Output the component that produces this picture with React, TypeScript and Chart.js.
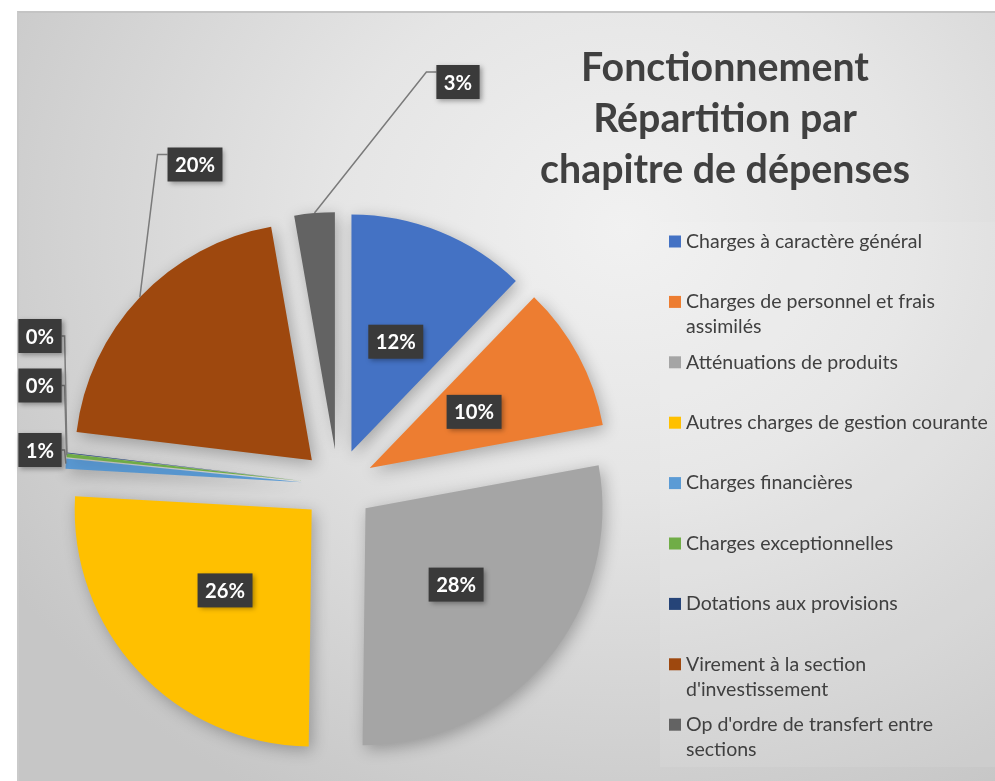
import React, { useEffect, useRef } from "react";
import { Chart, registerables } from "chart.js";

Chart.register(...registerables);

// ---- Data ----
const categories = [
  "Charges à caractère général",
  "Charges de personnel et frais assimilés",
  "Atténuations de produits",
  "Autres charges de gestion courante",
  "Charges financières",
  "Charges exceptionnelles",
  "Dotations aux provisions",
  "Virement à la section d'investissement",
  "Op d'ordre de transfert entre sections",
];
const legendLines = [
  ["Charges à caractère général"],
  ["Charges de personnel et frais", "assimilés"],
  ["Atténuations de produits"],
  ["Autres charges de gestion courante"],
  ["Charges financières"],
  ["Charges exceptionnelles"],
  ["Dotations aux provisions"],
  ["Virement à la section", "d'investissement"],
  ["Op d'ordre de transfert entre", "sections"],
];
const shares = [12.2, 9.9, 28.1, 25.7, 0.7, 0.25, 0.05, 20.35, 2.75];
const colors = [
  "#4472C4",
  "#ED7D31",
  "#A5A5A5",
  "#FFC000",
  "#5B9BD5",
  "#70AD47",
  "#264478",
  "#9E480E",
  "#636363",
];
const titleLines = ["Fonctionnement", "Répartition par", "chapitre de dépenses"];

// ---- Layout ----
const EXPLODE = 36;
const RADIUS = 237;
const FONT = "Lato, 'Open Sans', sans-serif";
const TEXT_COLOR = "#404040";
// external label boxes (center positions) by slice index
const outsideLabels: Record<number, { cx: number; cy: number; side: "left" | "right" }> = {
  4: { cx: 40, cy: 450, side: "left" },
  5: { cx: 40, cy: 385.5, side: "left" },
  6: { cx: 40, cy: 336, side: "left" },
  7: { cx: 195, cy: 164.5, side: "right" },
  8: { cx: 458, cy: 82, side: "right" },
};

function fitFont(ctx: CanvasRenderingContext2D, weight: string, text: string, target: number) {
  ctx.font = `${weight} 40px ${FONT}`;
  const w = ctx.measureText(text).width;
  return (40 * target) / w;
}

const explodePlugin = {
  id: "explode",
  beforeDatasetsDraw(chart: any) {
    const ca = chart.chartArea;
    const cx = (ca.left + ca.right) / 2;
    const cy = (ca.top + ca.bottom) / 2;
    const meta = chart.getDatasetMeta(0);
    meta.data.forEach((arc: any) => {
      const mid = (arc.startAngle + arc.endAngle) / 2;
      arc.x = cx + Math.cos(mid) * EXPLODE;
      arc.y = cy + Math.sin(mid) * EXPLODE;
    });
  },
};

const shadowPlugin = {
  id: "sliceShadow",
  beforeDatasetDraw(chart: any) {
    const ctx = chart.ctx;
    ctx.save();
    ctx.shadowColor = "rgba(0,0,0,0.28)";
    ctx.shadowBlur = 16;
    ctx.shadowOffsetX = 3;
    ctx.shadowOffsetY = 4;
  },
  afterDatasetDraw(chart: any) {
    chart.ctx.restore();
  },
};

const backdropPlugin = {
  id: "backdrop",
  beforeDraw(chart: any) {
    const ctx = chart.ctx;
    ctx.save();
    ctx.fillStyle = "rgba(255,255,255,0.09)";
    ctx.fillRect(660, 222, 335, 545);
    ctx.restore();
  },
};

function drawBox(ctx: CanvasRenderingContext2D, cx: number, cy: number, text: string, fontSize: number) {
  ctx.font = `bold ${fontSize}px ${FONT}`;
  const tw = ctx.measureText(text).width;
  const w = tw + 15;
  const h = 34;
  ctx.save();
  ctx.shadowColor = "rgba(0,0,0,0.35)";
  ctx.shadowBlur = 5;
  ctx.shadowOffsetX = 2;
  ctx.shadowOffsetY = 2;
  ctx.fillStyle = "#3a3a3a";
  ctx.fillRect(cx - w / 2, cy - h / 2, w, h);
  ctx.restore();
  ctx.fillStyle = "#ffffff";
  ctx.textAlign = "center";
  ctx.textBaseline = "middle";
  ctx.fillText(text, cx, cy + 1);
  return { left: cx - w / 2, right: cx + w / 2, top: cy - h / 2, bottom: cy + h / 2 };
}

const labelsPlugin = {
  id: "sliceLabels",
  afterDatasetsDraw(chart: any) {
    const ctx: CanvasRenderingContext2D = chart.ctx;
    const meta = chart.getDatasetMeta(0);
    const total = shares.reduce((a, b) => a + b, 0);
    const fs = Math.min(23, fitFont(ctx, "bold", "12%", 40));
    ctx.save();
    meta.data.forEach((arc: any, i: number) => {
      const text = Math.round((shares[i] / total) * 100) + "%";
      const mid = (arc.startAngle + arc.endAngle) / 2;
      const r = arc.outerRadius;
      const ext = outsideLabels[i];
      if (!ext) {
        drawBox(ctx, arc.x + Math.cos(mid) * r * 0.5, arc.y + Math.sin(mid) * r * 0.5, text, fs);
        return;
      }
      const ex = arc.x + Math.cos(mid) * r;
      const ey = arc.y + Math.sin(mid) * r;
      ctx.font = `bold ${fs}px ${FONT}`;
      const w = ctx.measureText(text).width + 15;
      const left = ext.cx - w / 2;
      const right = ext.cx + w / 2;
      const top = ext.cy - 17;
      ctx.save();
      ctx.strokeStyle = "#7a7a7a";
      ctx.lineWidth = 1.5;
      ctx.beginPath();
      if (ext.side === "right") {
        ctx.moveTo(left, top + 7);
        ctx.lineTo(left - 10, top + 7);
        ctx.lineTo(ex, ey);
      } else {
        ctx.moveTo(right, ext.cy);
        ctx.lineTo(right + 3, ext.cy);
        ctx.lineTo(ex, ey);
      }
      ctx.stroke();
      ctx.restore();
      drawBox(ctx, ext.cx, ext.cy, text, fs);
    });
    ctx.restore();
  },
};

const titlePlugin = {
  id: "customTitle",
  afterDraw(chart: any) {
    const ctx: CanvasRenderingContext2D = chart.ctx;
    const size = fitFont(ctx, "bold", titleLines[2], 370);
    ctx.save();
    ctx.font = `bold ${size}px ${FONT}`;
    ctx.fillStyle = TEXT_COLOR;
    ctx.textAlign = "center";
    ctx.textBaseline = "alphabetic";
    const baselines = [81, 132, 183];
    titleLines.forEach((t, i) => ctx.fillText(t, 725, baselines[i]));
    ctx.restore();
  },
};

const legendPlugin = {
  id: "customLegend",
  afterDraw(chart: any) {
    const ctx: CanvasRenderingContext2D = chart.ctx;
    const size = fitFont(ctx, "normal", legendLines[3][0], 302);
    ctx.save();
    ctx.font = `${size}px ${FONT}`;
    ctx.textAlign = "left";
    ctx.textBaseline = "middle";
    legendLines.forEach((lines, i) => {
      const y0 = 241.5 + 60.4 * i;
      ctx.fillStyle = colors[i];
      ctx.fillRect(669, y0 - 6, 12, 12);
      ctx.fillStyle = TEXT_COLOR;
      lines.forEach((line, j) => ctx.fillText(line, 686, y0 + j * 25));
    });
    ctx.restore();
  },
};

export default function App() {
  const ref = useRef<HTMLCanvasElement>(null);
  useEffect(() => {
    const canvas = ref.current;
    if (!canvas) return;
    const chart = new Chart(canvas, {
      type: "pie",
      data: {
        labels: categories,
        datasets: [
          {
            data: shares,
            backgroundColor: colors,
            borderWidth: 0,
            radius: RADIUS,
          } as any,
        ],
      },
      options: {
        animation: false,
        responsive: true,
        maintainAspectRatio: false,
        events: [],
        layout: { padding: { left: 30, right: 349, top: 189, bottom: 0 } },
        plugins: {
          legend: { display: false },
          tooltip: { enabled: false },
          title: { display: false },
        },
      },
      plugins: [backdropPlugin, explodePlugin, shadowPlugin, labelsPlugin, titlePlugin, legendPlugin],
    });
    return () => chart.destroy();
  }, []);

  return (
    <div style={{ position: "fixed", left: 0, top: 0, width: 995, height: 781, background: "#ffffff", overflow: "hidden" }}>
      <div
        style={{
          position: "absolute",
          left: 17,
          top: 11,
          right: 0,
          bottom: 0,
          borderTop: "2px solid #c4c4c4",
          borderLeft: "2px solid #cacaca",
          background:
            "radial-gradient(ellipse 75% 85% at 62% 28%, #f1f1f1 0%, #e5e5e5 40%, #d3d3d3 75%, #c6c6c6 100%)",
        }}
      />
      <div style={{ position: "absolute", left: 0, top: 0, width: 995, height: 781 }}>
        <canvas ref={ref} />
      </div>
    </div>
  );
}
